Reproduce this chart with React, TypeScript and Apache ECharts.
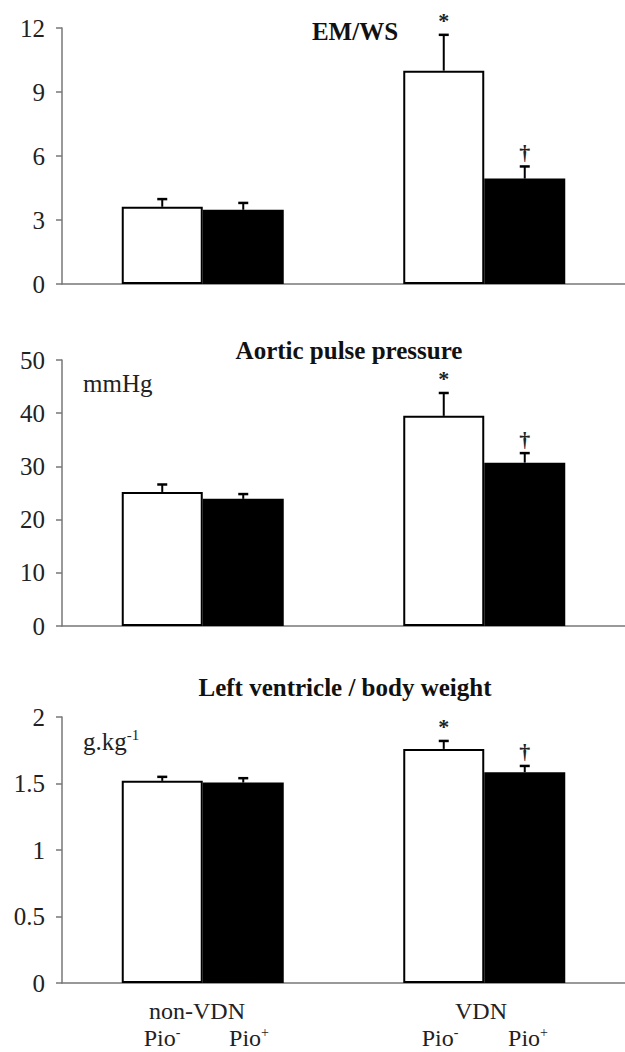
import React, { useEffect, useRef } from "react";
import * as echarts from "echarts";

const groups = ["non-VDN", "VDN"];
const panelTitles = ["EM/WS", "Aortic pulse pressure", "Left ventricle / body weight"];
const panelUnits = ["", "mmHg", "g.kg{sup|-1}"];
const yMax = [12, 50, 2];
const yInterval = [3, 10, 0.5];

// EM/WS
const emwsPioMinus = [3.62, 10.0];
const emwsPioMinusErr = [3.98, 11.68];
const emwsPioPlus = [3.48, 4.94];
const emwsPioPlusErr = [3.8, 5.51];

// Aortic pulse pressure (mmHg)
const ppPioMinus = [25.2, 39.5];
const ppPioMinusErr = [26.6, 43.8];
const ppPioPlus = [23.9, 30.7];
const ppPioPlusErr = [24.8, 32.5];

// LV / body weight (g/kg)
const lvPioMinus = [1.52, 1.76];
const lvPioMinusErr = [1.55, 1.82];
const lvPioPlus = [1.507, 1.585];
const lvPioPlusErr = [1.54, 1.632];

const pioMinusMarkers = ["", "*"];
const pioPlusMarkers = ["", "\u2020"];

const panels = [
  { minus: emwsPioMinus, minusErr: emwsPioMinusErr, plus: emwsPioPlus, plusErr: emwsPioPlusErr },
  { minus: ppPioMinus, minusErr: ppPioMinusErr, plus: ppPioPlus, plusErr: ppPioPlusErr },
  { minus: lvPioMinus, minusErr: lvPioMinusErr, plus: lvPioPlus, plusErr: lvPioPlusErr },
];

const FONT = "Liberation Serif";
const BAR_W = 81;
const gridTops = [28, 360, 717];
const gridHeights = [256, 266, 266];

export default function App() {
  const ref = useRef<HTMLDivElement>(null);
  useEffect(() => {
    document.body.style.margin = "0";
    const chart = echarts.init(ref.current!, null, { renderer: "svg" });

    const grids: any[] = [];
    const xAxes: any[] = [];
    const yAxes: any[] = [];
    const series: any[] = [];

    const errSeries = (i: number, vals: number[], errs: number[], markers: string[], offset: number) => ({
      type: "custom",
      xAxisIndex: i,
      yAxisIndex: i,
      z: 5,
      data: vals.map((v, k) => [k, v, errs[k]]),
      renderItem: (params: any, api: any) => {
        const cat = api.value(0);
        const base = api.coord([cat, api.value(1)]);
        const top = api.coord([cat, api.value(2)]);
        const x = base[0] + offset;
        const children: any[] = [
          { type: "line", shape: { x1: x, y1: base[1], x2: x, y2: top[1] }, style: { stroke: "#000", lineWidth: 2 } },
          { type: "line", shape: { x1: x - 5, y1: top[1], x2: x + 5, y2: top[1] }, style: { stroke: "#000", lineWidth: 2.5 } },
        ];
        const m = markers[params.dataIndex];
        if (m) {
          children.push({
            type: "text",
            style: {
              text: m,
              x,
              y: top[1] - 14,
              align: "center",
              verticalAlign: "middle",
              fontFamily: FONT,
              fontWeight: "bold",
              fontSize: 22,
              fill: "#222",
            },
          });
        }
        return { type: "group", children };
      },
    });

    panels.forEach((p, i) => {
      grids.push({ left: 62, right: 0, top: gridTops[i], height: gridHeights[i] });
      xAxes.push({
        type: "category",
        gridIndex: i,
        data: groups,
        axisLine: { lineStyle: { color: "#777", width: 1.5 } },
        axisTick: { show: false },
        axisLabel: { show: false },
      });
      yAxes.push({
        type: "value",
        gridIndex: i,
        min: 0,
        max: yMax[i],
        interval: yInterval[i],
        axisLine: { show: true, lineStyle: { color: "#777", width: 1.5 } },
        axisTick: { show: true, length: 6, lineStyle: { color: "#777", width: 1.5 } },
        splitLine: { show: false },
        axisLabel: { color: "#222", fontFamily: FONT, fontSize: 25, margin: 17 },
      });
      series.push({
        type: "bar",
        xAxisIndex: i,
        yAxisIndex: i,
        data: p.minus,
        barWidth: BAR_W,
        barGap: "0%",
        itemStyle: { color: "#fff", borderColor: "#000", borderWidth: 2 },
      });
      series.push({
        type: "bar",
        xAxisIndex: i,
        yAxisIndex: i,
        data: p.plus,
        barWidth: BAR_W,
        barGap: "0%",
        itemStyle: { color: "#000", borderColor: "#000", borderWidth: 0 },
      });
      series.push(errSeries(i, p.minus, p.minusErr, pioMinusMarkers, -BAR_W / 2));
      series.push(errSeries(i, p.plus, p.plusErr, pioPlusMarkers, BAR_W / 2));
    });

    const titleY = [31, 350, 687];
    const titleX = [355, 349, 345];
    const graphics: any[] = [];
    panelTitles.forEach((t, i) => {
      graphics.push({
        type: "text",
        x: titleX[i],
        y: titleY[i],
        style: {
          text: t,
          align: "center",
          verticalAlign: "middle",
          fontFamily: FONT,
          fontWeight: "bold",
          fontSize: 25,
          fill: "#111",
        },
      });
    });
    const unitY = [0, 383, 741];
    panelUnits.forEach((u, i) => {
      if (!u) return;
      graphics.push({
        type: "text",
        x: 83,
        y: unitY[i],
        style: {
          text: u,
          align: "left",
          verticalAlign: "middle",
          fontFamily: FONT,
          fontSize: 25,
          fill: "#222",
          rich: { sup: { fontSize: 15, fontFamily: FONT, padding: [0, 0, 12, 0] } },
        },
      });
    });
    const groupX = [197, 481];
    groups.forEach((g, k) => {
      graphics.push({
        type: "text",
        x: groupX[k],
        y: 1011,
        style: { text: g, align: "center", verticalAlign: "middle", fontFamily: FONT, fontSize: 24, fill: "#222" },
      });
    });
    const pioX = [162, 249, 440, 528];
    const pioSup = ["-", "+", "-", "+"];
    pioX.forEach((x, k) => {
      graphics.push({
        type: "text",
        x,
        y: 1038,
        style: {
          text: `Pio{sup|${pioSup[k]}}`,
          align: "center",
          verticalAlign: "middle",
          fontFamily: FONT,
          fontSize: 24,
          fill: "#222",
          rich: { sup: { fontSize: 14, fontFamily: FONT, padding: [0, 0, 12, 0] } },
        },
      });
    });

    chart.setOption({
      animation: false,
      backgroundColor: "#fff",
      grid: grids,
      xAxis: xAxes,
      yAxis: yAxes,
      series,
      graphic: graphics,
    });
    return () => chart.dispose();
  }, []);
  return <div ref={ref} style={{ width: 625, height: 1052 }} />;
}
